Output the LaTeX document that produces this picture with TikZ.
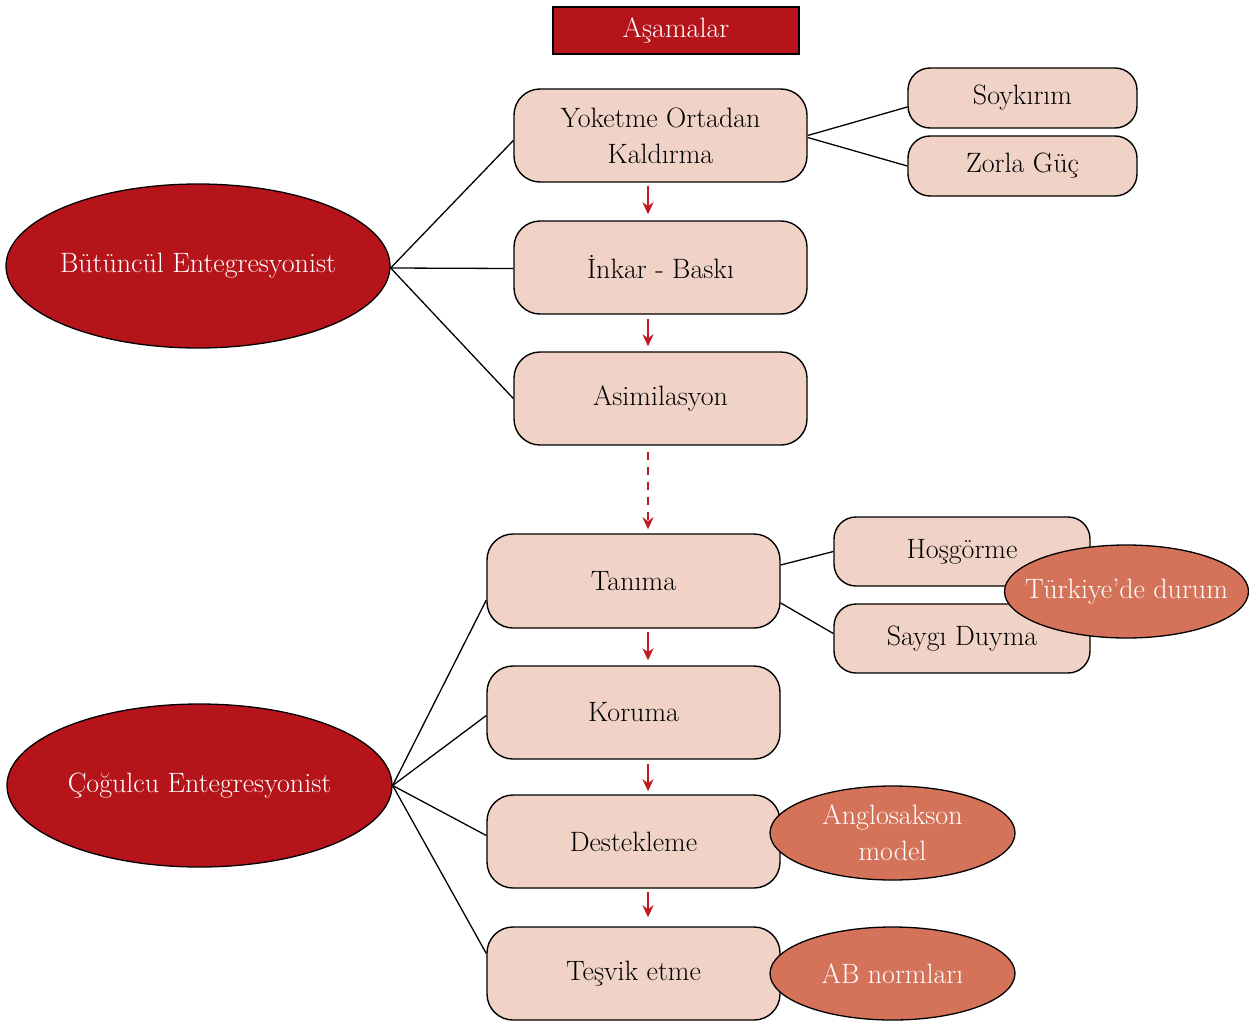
\documentclass[tikz,border=0pt]{standalone}
\usepackage{fontspec}
\usetikzlibrary{shapes.geometric,arrows.meta,calc}
\definecolor{deepred}{HTML}{B5141B}
\definecolor{blush}{HTML}{F0D3C6}
\definecolor{terracotta}{HTML}{D4735A}
\definecolor{arrowred}{HTML}{C11A22}
\begin{document}
\begin{tikzpicture}[x=1pt,y=-1pt,
  every node/.style={font=\fontsize{28}{36}\selectfont},
  stage/.style={draw=black,line width=1.4pt,fill=blush,rounded corners=26pt,
    minimum width=293pt,minimum height=93pt,inner sep=0pt,align=center},
  substage/.style={stage,rounded corners=22pt},
  group/.style={ellipse,draw=black,line width=1.3pt,fill=deepred,inner sep=0pt},
  remark/.style={ellipse,draw=black,line width=1.3pt,fill=terracotta,inner sep=0pt},
  link/.style={draw=black,line width=1.3pt},
  flow/.style={draw=arrowred,line width=2.4pt,-{Stealth[length=12pt,width=11pt]}},
]
\useasboundingbox (0,0) rectangle (1249,1022);

% heading
\node[draw=black,line width=1.3pt,fill=deepred,minimum width=246pt,minimum height=47pt,
  inner sep=0pt,text=white] (title) at (676,30.5) {Aşamalar};

% stages of the holistic approach
\node[stage] (yok) at (660.5,135.5) {Yoketme Ortadan\\Kaldırma};
\node[stage] (ink) at (660.5,267.5) {İnkar - Baskı};
\node[stage] (asi) at (660.5,398.5) {Asimilasyon};

% stages of the pluralist approach
\node[stage,minimum height=94pt] (tan) at (633.5,581) {Tanıma};
\node[stage] (kor) at (633.5,712.5) {Koruma};
\node[stage] (des) at (633.5,841.5) {Destekleme};
\node[stage] (tes) at (633.5,973.5) {Teşvik etme};

% sub-steps
\node[substage,minimum width=229pt,minimum height=60pt] (soy) at (1022.5,98) {Soykırım};
\node[substage,minimum width=229pt,minimum height=60pt] (zor) at (1022.5,166) {Zorla Güç};
\node[substage,minimum width=256pt,minimum height=69pt] (hos) at (962,551.5) {Hoşgörme};
\node[substage,minimum width=256pt,minimum height=69pt] (say) at (962,638.5) {Saygı Duyma};

% approaches
\node[group,minimum width=384pt,minimum height=164pt,
  label={[text=white]center:Bütüncül Entegresyonist}] (but) at (198,266) {};
\node[group,minimum width=385pt,minimum height=163pt,
  label={[text=white]center:Çoğulcu Entegresyonist}] (cog) at (199.5,785.5) {};

% remarks
\node[remark,minimum width=244pt,minimum height=93pt,
  label={[text=white]center:Türkiye’de durum}] (tur) at (1126.5,591.5) {};
\node[remark,minimum width=245pt,minimum height=94pt,
  label={[text=white,align=center]center:Anglosakson\\model}] (ang) at (892.5,833) {};
\node[remark,minimum width=245pt,minimum height=93pt,
  label={[text=white]center:AB normları}] (abn) at (892.5,973.5) {};

% connectors
\draw[link] ([yshift=-2pt]but.east) -- ([yshift=-5pt]yok.west);
\draw[link] ([yshift=-2pt]but.east) -- ([yshift=-1pt]ink.west);
\draw[link] ([yshift=-2pt]but.east) -- (asi.west);
\draw[link] (cog.east) -- ([yshift=-19pt]tan.west);
\draw[link] (cog.east) -- ([yshift=-3pt]kor.west);
\draw[link] (cog.east) -- ([yshift=6pt]des.west);
\draw[link] (cog.east) -- ([yshift=20pt]tes.west);
\draw[link] (yok.east) -- ([yshift=-9pt]soy.west);
\draw[link] ([yshift=-2pt]yok.east) -- (zor.west);
\draw[link] ([yshift=16pt]tan.east) -- (hos.west);
\draw[link] ([yshift=-22pt]tan.east) -- ([yshift=5pt]say.west);

% sequence arrows
\coordinate (ax) at (648,0);
\draw[flow] ([yshift=-3pt]yok.south -| ax) -- ([yshift=6pt]ink.north -| ax);
\draw[flow] ([yshift=-4pt]ink.south -| ax) -- ([yshift=5pt]asi.north -| ax);
\draw[flow,dashed,dash pattern=on 8pt off 7pt] ([yshift=-6pt]asi.south -| ax) -- ([yshift=4pt]tan.north -| ax);
\draw[flow] ([yshift=-3pt]tan.south -| ax) -- ([yshift=5pt]kor.north -| ax);
\draw[flow] ([yshift=-4pt]kor.south -| ax) -- ([yshift=3pt]des.north -| ax);
\draw[flow] ([yshift=-3pt]des.south -| ax) -- ([yshift=9pt]tes.north -| ax);
\end{tikzpicture}
\end{document}
